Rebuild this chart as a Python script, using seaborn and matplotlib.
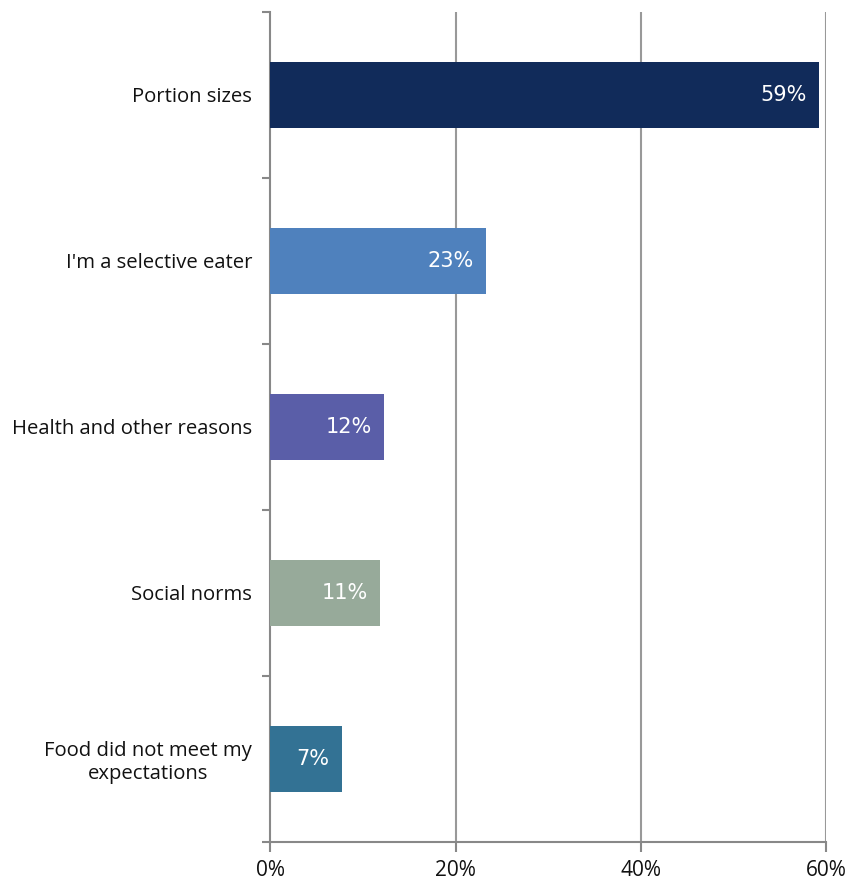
import matplotlib
matplotlib.use("Agg")
import matplotlib.pyplot as plt
import seaborn as sns
import pandas as pd
import numpy as np

categories = ["Portion sizes", "I'm a selective eater", "Health and other reasons",
              "Social norms", "Food did not meet my\nexpectations"]
values = [59.2, 23.3, 12.3, 11.8, 7.7]
value_labels = ["59%", "23%", "12%", "11%", "7%"]
colors = ["#112B5A", "#4F81BD", "#5A5EA8", "#97AA9A", "#337294"]
xticks = [0, 20, 40, 60]
xtick_labels = ["0%", "20%", "40%", "60%"]

sns.set_theme(style="white")
plt.rcParams['font.family'] = ['Open Sans', 'DejaVu Sans']

df = pd.DataFrame({"cat": categories, "val": values})

fig = plt.figure(figsize=(8.5, 8.82), dpi=100)
ax = fig.add_axes([0.318, 0.0454, 0.9718 - 0.318, 0.9864 - 0.0454])

sns.barplot(data=df, y="cat", x="val", hue="cat", palette=colors, orient="h",
            width=0.4, legend=False, ax=ax, saturation=1, zorder=3,
            edgecolor="none", linewidth=0)

ax.set_xlim(0, 60)
ax.set_ylim(4.5, -0.5)
ax.set_xticks(xticks)
ax.set_xticklabels(xtick_labels, fontsize=15, color="#111111")
ax.set_xlabel("")
ax.set_ylabel("")

for x in xticks[1:]:
    ax.axvline(x, color="#999999", lw=1.5, zorder=1)

ax.set_yticks(range(len(categories)))
ax.set_yticklabels(categories, fontsize=14.6, color="#111111", multialignment="center")
ax.set_yticks(np.arange(-0.5, len(categories)), minor=True)
ax.tick_params(axis="y", which="major", left=False, length=0, pad=13)
ax.tick_params(axis="y", which="minor", left=True, length=6, width=1.5, color="#888888", direction="out")
ax.tick_params(axis="x", which="major", bottom=True, length=7, width=1.5, color="#888888",
               direction="out", pad=6)

for s in ["top", "right"]:
    ax.spines[s].set_visible(False)
for s in ["left", "bottom"]:
    ax.spines[s].set_color("#888888")
    ax.spines[s].set_linewidth(1.5)

for i, (v, lab) in enumerate(zip(values, value_labels)):
    ax.text(v - 1.3, i, lab, ha="right", va="center", color="white", fontsize=15,
            family="DejaVu Sans", zorder=4)

fig.savefig("out.png", dpi=100)
